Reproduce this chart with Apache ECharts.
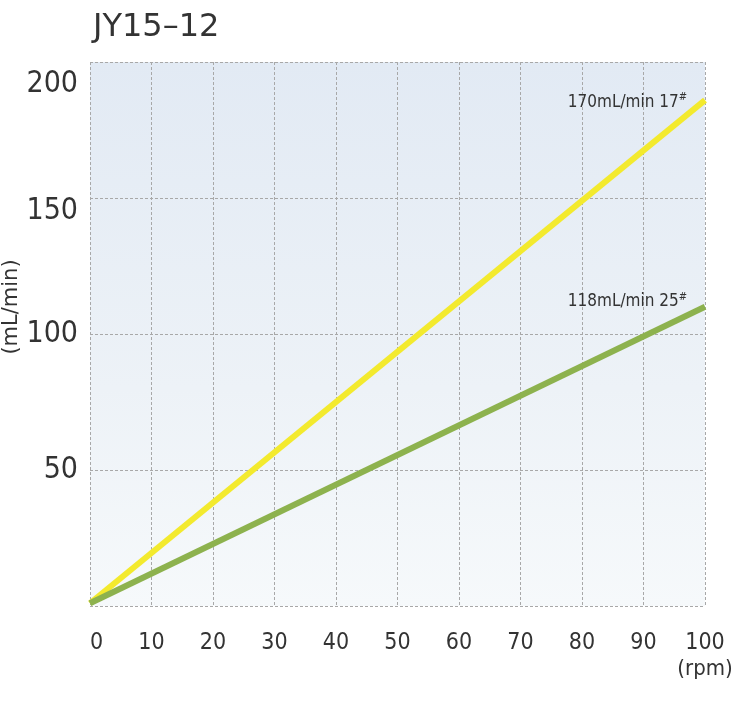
<!DOCTYPE html>
<html>
<head>
<meta charset="utf-8">
<script src="https://cdn.jsdelivr.net/npm/echarts@6/dist/echarts.min.js"></script>
<style>
  html, body { margin: 0; padding: 0; background: #fff; }
  #chart { width: 750px; height: 714px; }
</style>
</head>
<body>
<div id="chart"></div>
<script>
const chartTitle = "JY15–12";
const xTicks = [0, 10, 20, 30, 40, 50, 60, 70, 80, 90, 100];
const yTicks = [0, 50, 100, 150, 200];

// two pump tubes, flow vs speed
const tube17 = [[0, 1], [100, 186]];
const tube25 = [[0, 1], [100, 110]];
const tube17Label = ["170mL/min 17", "#"];
const tube25Label = ["118mL/min 25", "#"];

const narrow = "'DejaVu Sans Condensed', 'Liberation Sans Narrow', sans-serif";

var myChart = echarts.init(document.getElementById("chart"));

function endLabel(txt, dy) {
  return {
    show: true,
    position: [-18, dy],
    align: "right",
    verticalAlign: "middle",
    formatter: "{a|" + txt[0] + "}{s|" + txt[1] + "}",
    rich: {
      a: { fontFamily: narrow, fontSize: 17, color: "#333" },
      s: { fontFamily: narrow, fontSize: 11, color: "#333", verticalAlign: "top", padding: [0, 0, 9, 0] }
    }
  };
}

function lineData(points, txt, dy) {
  return points.map(function(p, i) {
    if (i === points.length - 1) {
      return { value: p, label: endLabel(txt, dy) };
    }
    return { value: p };
  });
}

let option = {
  animation: false,
  backgroundColor: "#fff",
  title: {
    text: chartTitle,
    left: 88,
    top: 7,
    textStyle: {
      fontFamily: "'DejaVu Sans', sans-serif",
      fontWeight: "normal",
      fontSize: 32,
      color: "#333"
    }
  },
  grid: {
    left: 90,
    right: 45,
    top: 62,
    bottom: 108,
    containLabel: false,
    outerBoundsMode: "none",
    show: true,
    borderWidth: 0,
    backgroundColor: new echarts.graphic.LinearGradient(0, 0, 0, 1, [
      { offset: 0, color: "#e2eaf4" },
      { offset: 0.6, color: "#edf2f7" },
      { offset: 1, color: "#f6f9fb" }
    ])
  },
  xAxis: {
    type: "value",
    min: xTicks[0],
    max: xTicks[xTicks.length - 1],
    interval: 10,
    name: "(rpm)",
    nameLocation: "end",
    nameGap: 0,
    nameMoveOverlap: false,
    nameTextStyle: {
      fontFamily: narrow,
      fontSize: 22,
      color: "#333",
      align: "center",
      verticalAlign: "top",
      padding: [52, 0, 0, 0]
    },
    axisLine: { show: false },
    axisTick: { show: false },
    axisLabel: {
      margin: 26,
      fontFamily: narrow,
      fontSize: 23,
      color: "#333",
      formatter: function(v) {
        return v === 0 ? "  0" : v;
      }
    },
    splitLine: {
      show: true,
      lineStyle: { color: "#a8a8a8", type: [3, 2], width: 1 }
    }
  },
  yAxis: {
    type: "value",
    min: yTicks[0],
    max: yTicks[yTicks.length - 1],
    interval: 50,
    name: "(mL/min)",
    nameLocation: "middle",
    nameGap: 68,
    nameMoveOverlap: false,
    nameRotate: 90,
    nameTextStyle: {
      fontFamily: "'DejaVu Sans', sans-serif",
      fontSize: 21,
      color: "#333",
      padding: [0, 0, 0, 54]
    },
    axisLine: { show: false },
    axisTick: { show: false },
    axisLabel: {
      margin: 12,
      fontFamily: narrow,
      fontSize: 30,
      color: "#333",
      formatter: function(v) {
        if (v === 0) return "";
        if (v === 200) return "{lo|" + v + "}";
        if (v === 150) return "{mid|" + v + "}";
        return v;
      },
      rich: {
        lo: { fontFamily: narrow, fontSize: 30, color: "#333", padding: [44, 0, 0, 0] },
        mid: { fontFamily: narrow, fontSize: 30, color: "#333", padding: [26, 0, 0, 0] }
      }
    },
    splitLine: {
      show: true,
      lineStyle: { color: "#a8a8a8", type: [3, 2], width: 1 }
    }
  },
  series: [
    {
      name: "17#",
      type: "line",
      symbol: "circle",
      symbolSize: 0,
      showSymbol: true,
      lineStyle: { color: "#f3ea2e", width: 6 },
      itemStyle: { color: "#f3ea2e" },
      data: lineData(tube17, tube17Label, 2),
      z: 3
    },
    {
      name: "25#",
      type: "line",
      symbol: "circle",
      symbolSize: 0,
      showSymbol: true,
      lineStyle: { color: "#8db24e", width: 6 },
      itemStyle: { color: "#8db24e" },
      data: lineData(tube25, tube25Label, -5),
      z: 3
    }
  ]
};
myChart.setOption(option);
</script>
</body>
</html>
